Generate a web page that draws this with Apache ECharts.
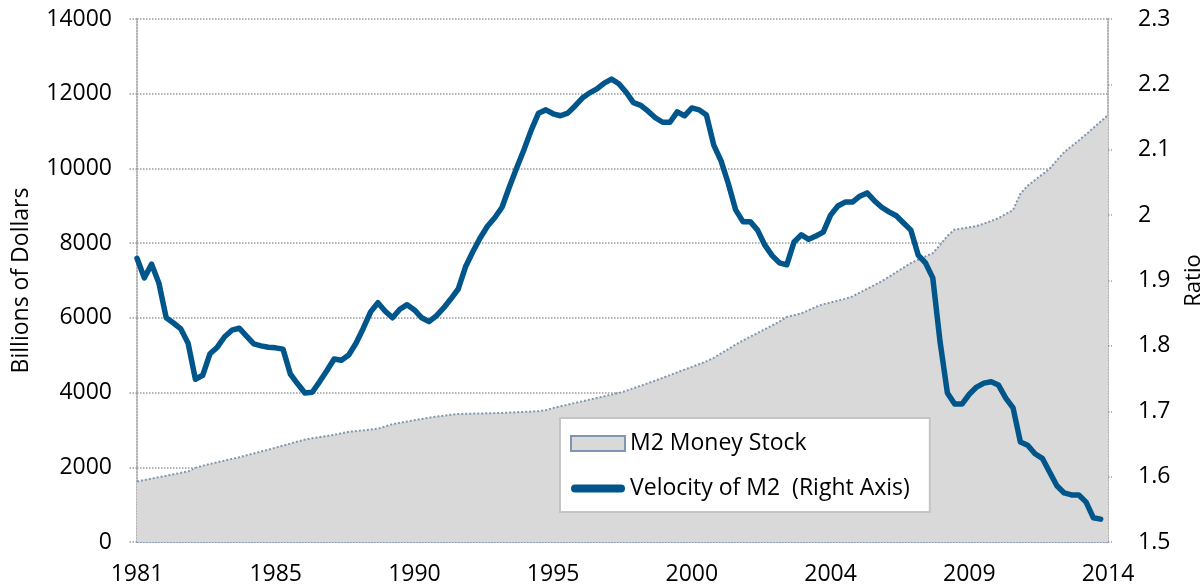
<!DOCTYPE html>
<html>
<head>
<meta charset="utf-8">
<script src="https://cdn.jsdelivr.net/npm/echarts@6/dist/echarts.min.js"></script>
<style>
html,body{margin:0;padding:0;background:#fff;}
#chart{width:1204px;height:588px;}
</style>
</head>
<body>
<div id="chart"></div>
<script>
// quarters 1981Q1 .. 2014Q2
var quarters = [
	'1981Q1','1981Q2','1981Q3','1981Q4','1982Q1','1982Q2','1982Q3','1982Q4',
	'1983Q1','1983Q2','1983Q3','1983Q4','1984Q1','1984Q2','1984Q3','1984Q4',
	'1985Q1','1985Q2','1985Q3','1985Q4','1986Q1','1986Q2','1986Q3','1986Q4',
	'1987Q1','1987Q2','1987Q3','1987Q4','1988Q1','1988Q2','1988Q3','1988Q4',
	'1989Q1','1989Q2','1989Q3','1989Q4','1990Q1','1990Q2','1990Q3','1990Q4',
	'1991Q1','1991Q2','1991Q3','1991Q4','1992Q1','1992Q2','1992Q3','1992Q4',
	'1993Q1','1993Q2','1993Q3','1993Q4','1994Q1','1994Q2','1994Q3','1994Q4',
	'1995Q1','1995Q2','1995Q3','1995Q4','1996Q1','1996Q2','1996Q3','1996Q4',
	'1997Q1','1997Q2','1997Q3','1997Q4','1998Q1','1998Q2','1998Q3','1998Q4',
	'1999Q1','1999Q2','1999Q3','1999Q4','2000Q1','2000Q2','2000Q3','2000Q4',
	'2001Q1','2001Q2','2001Q3','2001Q4','2002Q1','2002Q2','2002Q3','2002Q4',
	'2003Q1','2003Q2','2003Q3','2003Q4','2004Q1','2004Q2','2004Q3','2004Q4',
	'2005Q1','2005Q2','2005Q3','2005Q4','2006Q1','2006Q2','2006Q3','2006Q4',
	'2007Q1','2007Q2','2007Q3','2007Q4','2008Q1','2008Q2','2008Q3','2008Q4',
	'2009Q1','2009Q2','2009Q3','2009Q4','2010Q1','2010Q2','2010Q3','2010Q4',
	'2011Q1','2011Q2','2011Q3','2011Q4','2012Q1','2012Q2','2012Q3','2012Q4',
	'2013Q1','2013Q2','2013Q3','2013Q4','2014Q1','2014Q2'
];

// M2 money stock, billions of dollars (left axis)
var m2Stock = [
	1620,1659,1697,1736,1774,1813,1851,1890,1984,2043,
	2089,2134,2179,2225,2270,2320,2371,2422,2473,2527,
	2581,2634,2688,2742,2778,2808,2838,2870,2912,2950,
	2969,2988,3008,3033,3094,3155,3191,3225,3259,3293,
	3327,3357,3382,3406,3428,3432,3437,3441,3445,3450,
	3456,3465,3474,3483,3492,3501,3529,3588,3632,3677,
	3722,3766,3811,3856,3900,3945,3990,4045,4114,4183,
	4252,4321,4394,4467,4541,4615,4688,4762,4836,4931,
	5049,5166,5283,5394,5494,5595,5695,5796,5903,6025,
	6070,6120,6207,6295,6365,6413,6460,6508,6573,6675,
	6777,6878,6980,7099,7222,7344,7467,7556,7644,7732,
	7951,8195,8363,8394,8425,8457,8523,8592,8668,8778,
	8888,9322,9538,9689,9839,9990,10216,10437,10594,10750,
	10913,11085,11257,11429
];

// velocity of M2, ratio (right axis)
var m2Velocity = [
	1.934,1.904,1.925,1.896,1.843,1.835,1.826,1.804,1.749,1.755,
	1.788,1.798,1.814,1.824,1.827,1.815,1.803,1.800,1.798,1.797,
	1.795,1.757,1.742,1.728,1.729,1.745,1.762,1.780,1.778,1.786,
	1.804,1.827,1.852,1.866,1.853,1.843,1.856,1.863,1.855,1.843,
	1.837,1.846,1.858,1.872,1.887,1.921,1.944,1.965,1.983,1.996,
	2.012,2.043,2.072,2.100,2.130,2.156,2.161,2.155,2.152,2.156,
	2.167,2.179,2.187,2.193,2.202,2.208,2.201,2.188,2.172,2.168,
	2.159,2.149,2.142,2.142,2.158,2.152,2.164,2.161,2.153,2.107,
	2.083,2.048,2.008,1.990,1.990,1.977,1.954,1.938,1.927,1.924,
	1.959,1.970,1.963,1.968,1.974,2.000,2.014,2.020,2.020,2.029,
	2.034,2.022,2.012,2.005,1.999,1.988,1.977,1.939,1.927,1.904,
	1.806,1.728,1.711,1.711,1.726,1.737,1.743,1.745,1.740,1.720,
	1.705,1.653,1.648,1.635,1.628,1.607,1.586,1.575,1.572,1.572,
	1.561,1.537,1.535
];

var font = 'Open Sans';
var gridColor = '#9a9a9a';
var dots = [1.5, 1.5];

var chart = echarts.init(document.getElementById('chart'), null, {renderer: 'canvas'});

chart.setOption({
	animation: false,
	backgroundColor: '#fff',
	textStyle: {fontFamily: font, color: '#000'},
	grid: {left: 137, right: 96, top: 19, bottom: 46, containLabel: false, outerBoundsMode: 'none'},
	legend: {
		orient: 'vertical',
		left: 560,
		top: 418,
		padding: [12, 20, 10, 10],
		backgroundColor: '#fff',
		borderColor: '#c4c4c4',
		borderWidth: 2,
		itemWidth: 54,
		itemHeight: 15,
		itemGap: 18,
		symbolKeepAspect: true,
		textStyle: {fontFamily: font, fontSize: 23, color: '#000', lineHeight: 27},
		data: [
			{name: 'M2 Money Stock', icon: 'rect',
				itemStyle: {color: '#d9d9d9', borderColor: '#8096b0', borderWidth: 2}},
			{name: 'Velocity of M2  (Right Axis)',
				icon: 'path://M4,0 H50 A4,4 0 0 1 50,8 H4 A4,4 0 0 1 4,0 Z',
				itemStyle: {color: '#00568a', borderWidth: 0}}
		]
	},
	xAxis: [{
		type: 'category',
		data: quarters,
		boundaryGap: false,
		axisLine: {show: true, lineStyle: {color: '#8096b0', width: 1.5, type: dots}},
		axisTick: {show: false},
		axisLabel: {
			interval: 18,
			margin: 21,
			fontSize: 23,
			fontFamily: font,
			color: '#000',
			formatter: function (v) { return v.slice(0, 4); }
		},
		splitLine: {show: false}
	}],
	yAxis: [{
		type: 'value',
		position: 'left',
		min: 0,
		max: 14000,
		interval: 2000,
		name: 'Billions of Dollars',
		nameLocation: 'middle',
		nameRotate: 90,
		nameGap: 104,
		nameTextStyle: {fontFamily: font, fontSize: 23, color: '#000'},
		axisLine: {show: true, lineStyle: {color: gridColor, width: 1.5, type: dots}},
		axisTick: {show: true, inside: false, length: 8, lineStyle: {color: gridColor, width: 1.5, type: dots}},
		axisLabel: {
			margin: 25, fontSize: 23, fontFamily: font, color: '#000',
			formatter: function (v) { return String(v); }
		},
		splitLine: {show: true, lineStyle: {color: gridColor, width: 1.5, type: dots}}
	}, {
		type: 'value',
		position: 'right',
		min: 1.5,
		max: 2.3,
		interval: 0.1,
		name: 'Ratio',
		nameLocation: 'middle',
		nameRotate: 90,
		nameGap: 75,
		nameTextStyle: {fontFamily: font, fontSize: 22, color: '#000'},
		axisLine: {show: true, lineStyle: {color: gridColor, width: 1.5, type: dots}},
		axisTick: {show: true, inside: false, length: 4, lineStyle: {color: gridColor, width: 1.5, type: dots}},
		axisLabel: {
			margin: 30, fontSize: 23, fontFamily: font, color: '#000',
			formatter: function (v) { return String(+v.toFixed(1)); }
		},
		splitLine: {show: false}
	}],
	series: [{
		name: 'M2 Money Stock',
		type: 'line',
		yAxisIndex: 0,
		data: m2Stock,
		symbol: 'none',
		lineStyle: {color: '#8096b0', width: 2, type: [2, 2]},
		areaStyle: {color: '#d9d9d9', opacity: 1},
		itemStyle: {color: '#d9d9d9'},
		z: 1
	}, {
		name: 'Velocity of M2  (Right Axis)',
		type: 'line',
		yAxisIndex: 1,
		data: m2Velocity,
		symbol: 'none',
		lineStyle: {color: '#00568a', width: 5.5, cap: 'round', join: 'round'},
		itemStyle: {color: '#00568a'},
		z: 3
	}]
});
</script>
</body>
</html>
